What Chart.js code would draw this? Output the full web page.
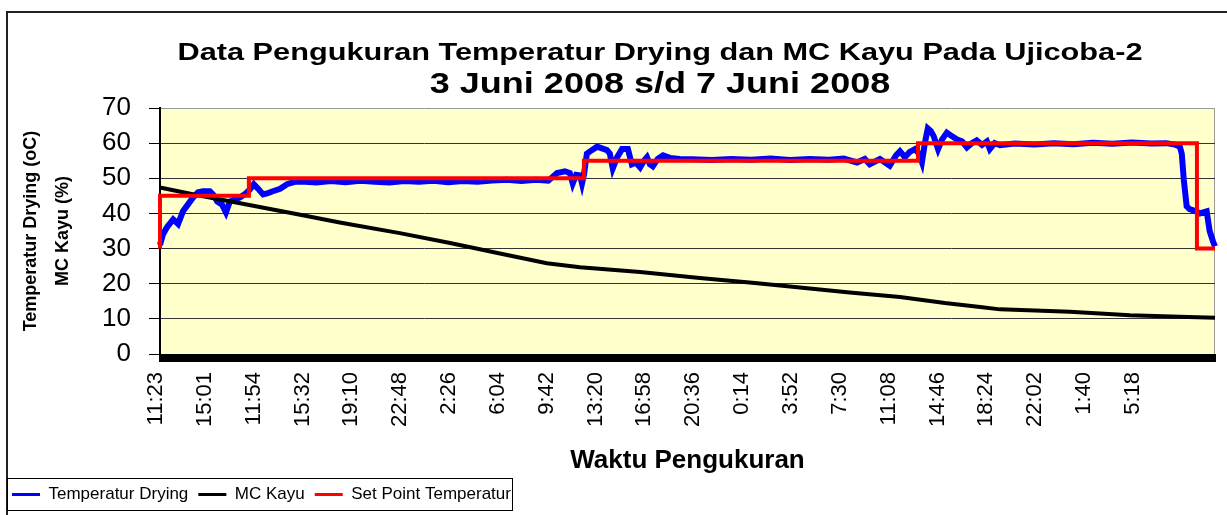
<!DOCTYPE html>
<html>
<head>
<meta charset="utf-8">
<script src="https://cdn.jsdelivr.net/npm/chart.js@4.4.1/dist/chart.umd.min.js"></script>
<style>
html,body{margin:0;padding:0;background:#fff;}
#wrap{position:relative;width:1227px;height:515px;overflow:hidden;font-family:'Liberation Sans',Arial,sans-serif;}
canvas{position:absolute;left:0;top:0;}
.t{position:absolute;white-space:nowrap;font-weight:bold;color:#000;line-height:1;transform-origin:center;}
#frameL{position:absolute;left:6px;top:12px;width:2px;height:503px;background:#222;}
#frameT{position:absolute;left:6px;top:11px;width:1221px;height:2px;background:#222;}
#legBox{position:absolute;left:7px;top:478px;width:506px;height:33px;border:1px solid #000;box-sizing:border-box;}
</style>
</head>
<body>
<div id="wrap">
<canvas id="c" width="1227" height="515"></canvas>
<div id="frameL"></div>
<div id="frameT"></div>
<div id="legBox"></div>
<div id="t1" class="t" style="left:660px;top:41px;font-size:23px">Data Pengukuran Temperatur Drying dan MC Kayu Pada Ujicoba-2</div>
<div id="t2" class="t" style="left:660px;top:68px;font-size:30px">3 Juni 2008 s/d 7 Juni 2008</div>
</div>
<script>
// ---- data ----
const timeLabels = ['11:23','15:01','11:54','15:32','19:10','22:48','2:26','6:04','9:42','13:20','16:58','20:36','0:14','3:52','7:30','11:08','14:46','18:24','22:02','1:40','5:18'];
const yTickValues = [0,10,20,30,40,50,60,70];

// x positions in units of one label interval (0 = first label "11:23")
const tempX = [0.00,0.06,0.14,0.27,0.37,0.47,0.57,0.68,0.78,0.88,1.02,1.11,1.17,1.27,1.35,1.43,1.54,1.64,1.74,1.84,1.92,2.01,2.11,2.21,2.31,2.46,2.60,2.76,
  2.9,3.2,3.5,3.8,4.1,4.4,4.7,5.0,5.3,5.6,5.9,6.2,6.5,6.8,7.1,7.4,7.7,7.95,
  8.13,8.29,8.39,8.45,8.52,8.60,8.64,8.68,8.74,8.84,8.95,9.05,9.15,9.21,9.27,9.36,9.46,9.58,9.66,9.74,9.83,9.91,9.97,10.03,10.09,10.19,10.30,10.44,10.64,
  10.9,11.3,11.7,12.1,12.5,12.9,13.3,13.7,14.0,
  14.27,14.43,14.53,14.74,14.94,15.07,15.15,15.25,15.35,15.46,15.54,15.60,15.66,15.72,15.78,15.84,15.93,16.01,16.11,16.21,16.32,16.42,16.52,16.62,16.72,16.83,16.93,16.99,17.09,17.20,
  17.5,17.9,18.3,18.7,19.1,19.5,19.9,20.3,20.6,
  20.78,20.88,20.92,20.96,21.02,21.08,21.21,21.29,21.43,21.49,21.56,21.60];
const tempY = [31,34,36,38.3,37,40.6,42.5,44.6,46,46.3,46.3,45,43.4,42.5,40.3,43.4,44,44.6,45.5,46.8,48.3,47,45.4,45.8,46.3,47,48.3,49,
  49.1,48.8,49.2,48.9,49.3,49.0,48.8,49.2,49.0,49.3,48.9,49.2,49.0,49.4,49.6,49.2,49.6,49.3,
  51.5,52,51.5,48.5,51,50.8,48.5,51,57,58,59,58.5,58,57,52.8,56,58.3,58.3,54,54.5,53.1,55,56,54,53.4,55.5,56.5,55.8,55.5,
  55.4,55.2,55.5,55.3,55.6,55.2,55.5,55.3,55.6,
  54.5,55.5,54,55.5,53.6,56.5,57.7,56,57.5,58.3,57,54.6,60,64.2,63.5,62,58.3,61,63,62,61,60.5,58.8,60,60.8,59.5,60.5,58.3,60,59.4,
  59.9,59.6,60.0,59.7,60.1,59.8,60.2,59.9,60.0,
  59.6,59,57,49.7,42,41.2,40.6,40,40.6,35,32,30.6];

const mcX = [0,0.72,1.64,2.87,3.68,4.91,5.94,6.96,7.92,8.60,9.83,11.05,12.18,13.10,14.12,15.15,16.07,16.79,17.20,18.63,19.86,20.88,21.60];
const mcY = [47.4,45.3,42.9,39.6,37.4,34.4,31.6,28.6,25.8,24.7,23.3,21.6,20.2,18.9,17.5,16.2,14.5,13.4,12.7,12.0,11.0,10.6,10.3];

const spX = [0,0,1.82,1.82,8.68,8.68,15.52,15.52,21.23,21.23,21.6];
const spY = [30,45,45,50,50,55,55,60,60,30,30];

const X_MAX = 21.6;
const TICK_STEP = 0.025;
const PER_LABEL = 40;

// ---- title scaling ----
function fitTitle(id, target){
  const el = document.getElementById(id);
  const w = el.offsetWidth;
  el.style.transform = 'translateX(-50%) scaleX(' + (target / w) + ')';
}
fitTitle('t1', 965);
fitTitle('t2', 461);

// ---- chart ----
const toPts = (xs, ys) => xs.map((x, i) => ({x: x, y: ys[i]}));

const plotBg = {
  id: 'plotBg',
  beforeDraw(chart) {
    const {ctx, chartArea: a} = chart;
    ctx.save();
    ctx.fillStyle = '#FFFFCC';
    ctx.fillRect(a.left, a.top, a.right - a.left, a.bottom - a.top);
    ctx.strokeStyle = '#999';
    ctx.lineWidth = 1;
    ctx.beginPath();
    ctx.moveTo(Math.round(a.right) - 0.5, a.top);
    ctx.lineTo(Math.round(a.right) - 0.5, a.bottom);
    ctx.stroke();
    ctx.restore();
  }
};

Chart.defaults.font.family = "'Liberation Sans', Arial, sans-serif";
Chart.defaults.color = '#000';

new Chart(document.getElementById('c'), {
  type: 'line',
  data: {
    datasets: [
      {label: 'Temperatur Drying', data: toPts(tempX, tempY), borderColor: '#0000FF', backgroundColor: '#0000FF', borderWidth: 6, pointRadius: 0, order: 3, clip: 4},
      {label: 'MC Kayu', data: toPts(mcX, mcY), borderColor: '#000000', backgroundColor: '#000000', borderWidth: 4, pointRadius: 0, order: 2, clip: 4},
      {label: 'Set Point Temperatur', data: toPts(spX, spY), borderColor: '#FF0000', backgroundColor: '#FF0000', borderWidth: 4, pointRadius: 0, order: 1, clip: 4}
    ]
  },
  options: {
    responsive: false,
    animation: false,
    devicePixelRatio: 1,
    layout: {padding: {left: 2, right: 12, top: 108, bottom: 2}},
    plugins: {
      title: {display: false},
      tooltip: {enabled: false},
      legend: {
        position: 'bottom',
        align: 'start',
        labels: {
          usePointStyle: true,
          pointStyle: 'line',
          pointStyleWidth: 28,
          padding: 10,
          color: '#000',
          font: {size: 17},
          sort: (a, b) => a.datasetIndex - b.datasetIndex,
          generateLabels: (chart) => Chart.defaults.plugins.legend.labels.generateLabels(chart).map(l => Object.assign(l, {lineWidth: 3}))
        }
      }
    },
    scales: {
      x: {
        type: 'linear',
        min: 0,
        max: X_MAX,
        afterBuildTicks: (s) => {
          const n = Math.round(X_MAX / TICK_STEP);
          s.ticks = Array.from({length: n + 1}, (_, i) => ({value: i * TICK_STEP}));
        },
        afterFit: (s) => { s.height = 122; s.paddingLeft = 0; s.paddingRight = 0; },
        ticks: {
          autoSkip: false,
          minRotation: 90,
          maxRotation: 90,
          padding: 10,
          labelOffset: -4,
          color: '#000',
          font: {size: 22},
          callback: (v, i) => (i % PER_LABEL === 0 && timeLabels[i / PER_LABEL] !== undefined) ? timeLabels[i / PER_LABEL] : ''
        },
        grid: {drawOnChartArea: false, drawTicks: true, tickLength: 8, color: '#000', lineWidth: 2},
        border: {display: true, color: '#000', width: 1},
        title: {display: true, text: 'Waktu Pengukuran', color: '#000', font: {size: 26, weight: 'bold'}, padding: 0}
      },
      y: {
        min: 0,
        max: 70,
        afterBuildTicks: (s) => { s.ticks = yTickValues.map(v => ({value: v})); },
        afterFit: (s) => { s.width = 158; },
        ticks: {padding: 18, color: '#000', font: {size: 26}},
        grid: {
          color: (c) => (c.tick && c.tick.value === 70) ? '#999' : '#333',
          lineWidth: 1,
          drawTicks: true,
          tickLength: 11,
          tickColor: '#000'
        },
        border: {display: true, color: '#000', width: 2},
        title: {display: true, text: ['Temperatur Drying (oC)', 'MC Kayu (%)'], color: '#000', font: {size: 18, weight: 'bold', lineHeight: 1.78}, padding: {top: 13, bottom: 0}}
      }
    }
  },
  plugins: [plotBg]
});
</script>
</body>
</html>
